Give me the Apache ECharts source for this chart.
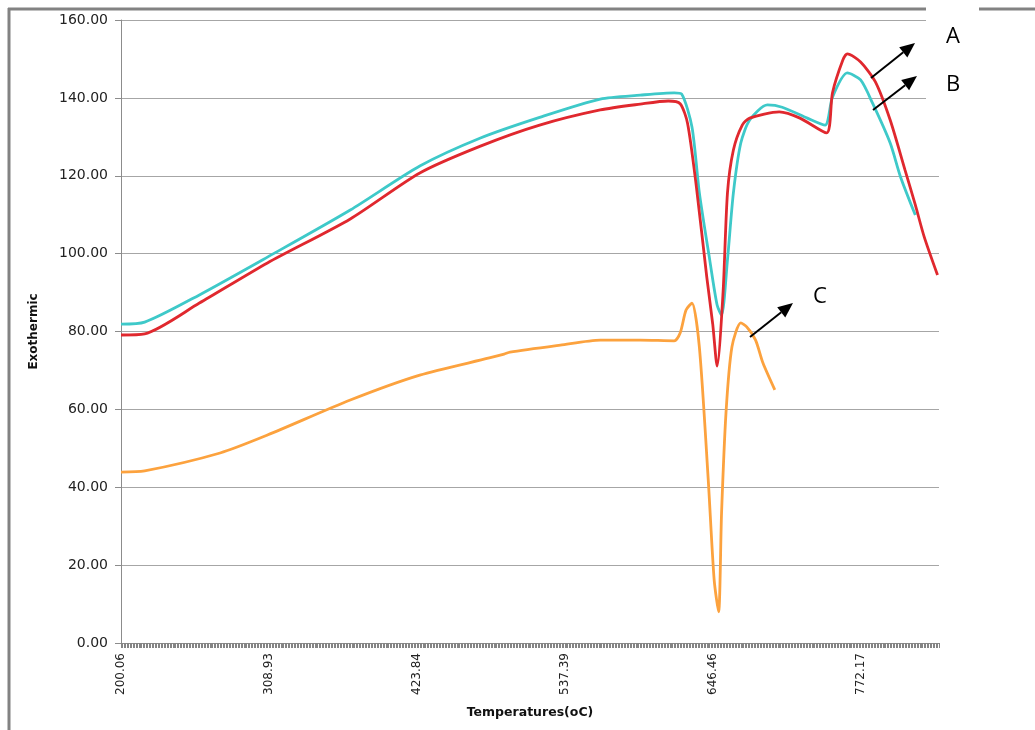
<!DOCTYPE html>
<html>
<head>
<meta charset="utf-8">
<style>
  html, body { margin: 0; padding: 0; background: #fff; }
  #chart { width: 1035px; height: 730px; }
</style>
<script src="https://cdn.jsdelivr.net/npm/echarts@6/dist/echarts.min.js"></script>
</head>
<body>
<div id="chart"></div>
<script>
// tick labels on the temperature axis, one every 100 samples
const tickLabels = ['200.06', '308.93', '423.84', '537.39', '646.46', '772.17'];
const labelStep = 100;
const sampleCount = 554;
const categories = Array.from({ length: sampleCount }, (_, i) => String(i));

// [sample index, exothermic]
const seriesA = [
  [0, 79.1], [16, 79.4], [53, 87.3], [99, 97.6], [155, 108.9], [202, 120.7], [243, 127.6],
  [283, 133.0], [324, 136.9], [351, 138.4], [370, 139.2], [378, 138.5], [383, 133.5],
  [389, 117.1], [396, 94.0], [400, 82.0], [403, 71.1], [407, 89.9], [410, 115.6],
  [414, 126.6], [420, 133.0], [425, 134.8], [445, 136.4], [459, 134.8], [477, 131.0],
  [481, 141.3], [488, 149.7], [491, 151.3], [500, 149.2], [510, 144.1], [520, 134.3],
  [530, 121.5], [537, 112.5], [543, 104.3], [552, 94.5]
];
const seriesB = [
  [0, 81.9], [16, 82.4], [53, 89.4], [99, 99.1], [155, 111.2], [202, 122.5], [243, 129.7],
  [283, 135.0], [324, 139.7], [351, 140.7], [374, 141.3], [379, 141.0], [386, 132.5],
  [391, 115.6], [398, 98.4], [403, 86.8], [406, 84.2], [410, 98.4], [414, 115.6],
  [419, 128.4], [425, 134.3], [437, 138.2], [447, 137.6], [464, 134.8], [476, 133.0],
  [481, 140.2], [491, 146.4], [500, 144.6], [508, 138.7], [520, 128.4], [527, 119.7],
  [537, 109.9]
];
const seriesC = [
  [0, 43.9], [16, 44.2], [67, 48.8], [99, 53.4], [155, 62.4], [202, 68.8], [249, 73.2],
  [259, 74.2], [263, 74.7], [297, 76.5], [324, 77.8], [351, 77.8], [374, 77.6],
  [378, 79.6], [382, 85.5], [386, 87.3], [391, 76.0], [397, 41.9], [401, 16.2],
  [404, 8.0], [406, 33.4], [409, 59.1], [413, 76.0], [419, 82.2], [423, 81.2],
  [429, 77.8], [434, 71.9], [442, 65.0]
];

const frameColor = '#828282';

function arrow(x1, y1, x2, y2) {
  const ang = Math.atan2(y2 - y1, x2 - x1);
  const len = 15, half = 6.5;
  const bx = x2 - len * Math.cos(ang), by = y2 - len * Math.sin(ang);
  const nx = -Math.sin(ang) * half, ny = Math.cos(ang) * half;
  return [
    { type: 'line', z: 100, shape: { x1: x1, y1: y1, x2: bx, y2: by }, style: { stroke: '#000', lineWidth: 2 } },
    { type: 'polygon', z: 100, shape: { points: [[x2, y2], [bx + nx, by + ny], [bx - nx, by - ny]] }, style: { fill: '#000' } }
  ];
}

function label(text, x, y) {
  return {
    type: 'text', z: 100, x: x, y: y,
    style: { text: text, fill: '#000', font: '22px "Open Sans", sans-serif', textAlign: 'center', textVerticalAlign: 'middle' }
  };
}

const chart = echarts.init(document.getElementById('chart'));
chart.setOption({
  animation: false,
  backgroundColor: '#fff',
  grid: { left: 121, right: 96, top: 20, bottom: 87 },
  xAxis: {
    type: 'category',
    data: categories,
    boundaryGap: false,
    name: 'Temperatures(oC)',
    nameLocation: 'middle',
    nameGap: 63,
    nameTextStyle: { fontFamily: 'DejaVu Sans', fontWeight: 'bold', fontSize: 12.5, color: '#111' },
    axisLine: { lineStyle: { color: '#8c8c8c', width: 1 } },
    axisTick: { show: true, interval: 0, length: 5, lineStyle: { color: '#858585' } },
    axisLabel: {
      interval: labelStep - 1,
      rotate: 90,
      margin: 10,
      fontFamily: 'DejaVu Sans',
      fontSize: 12,
      color: '#222',
      formatter: (v, i) => tickLabels[i / labelStep] || ''
    },
    splitLine: { show: false }
  },
  yAxis: {
    type: 'value',
    min: 0,
    max: 160,
    interval: 20,
    name: 'Exothermic',
    nameLocation: 'middle',
    nameGap: 81,
    nameRotate: 90,
    nameTextStyle: { fontFamily: 'DejaVu Sans', fontWeight: 'bold', fontSize: 12, color: '#111' },
    axisLine: { show: true, lineStyle: { color: '#8c8c8c' } },
    axisTick: { show: true, length: 6, lineStyle: { color: '#8c8c8c' } },
    axisLabel: {
      margin: 13,
      fontFamily: 'DejaVu Sans',
      fontSize: 14,
      color: '#222',
      formatter: v => v.toFixed(2)
    },
    splitLine: { lineStyle: { color: '#a6a6a6', width: 1 } }
  },
  series: [
    { name: 'B', type: 'line', data: seriesB, showSymbol: false, smooth: 0.25,
      lineStyle: { color: '#3ec9c9', width: 2.8 } },
    { name: 'A', type: 'line', data: seriesA, showSymbol: false, smooth: 0.25,
      lineStyle: { color: '#e0282e', width: 2.8 } },
    { name: 'C', type: 'line', data: seriesC, showSymbol: false, smooth: 0.25,
      lineStyle: { color: '#fca23e', width: 2.8 } }
  ],
  graphic: [
    // outer frame (partly hidden behind the annotation box)
    { type: 'line', z: 90, shape: { x1: 9, y1: 8, x2: 9, y2: 730 }, style: { stroke: frameColor, lineWidth: 3 } },
    { type: 'line', z: 90, shape: { x1: 8, y1: 9, x2: 1035, y2: 9 }, style: { stroke: frameColor, lineWidth: 3 } },
    { type: 'rect', z: 95, shape: { x: 926, y: 0, width: 53, height: 150 }, style: { fill: '#fff' } },
    ...arrow(871, 78, 915, 43),
    ...arrow(873, 110, 917, 76),
    ...arrow(750, 337, 793, 303),
    label('A', 953, 37),
    label('B', 953, 85),
    label('C', 820, 297)
  ]
});
</script>
</body>
</html>
